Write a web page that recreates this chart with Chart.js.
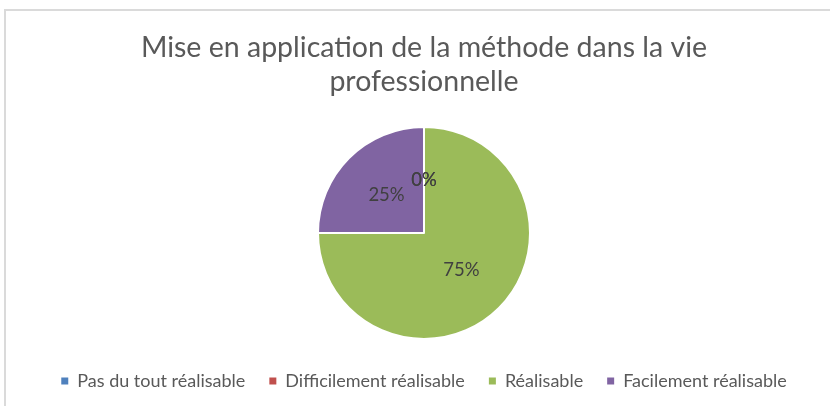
<!DOCTYPE html>
<html>
<head>
<meta charset="utf-8">
<script src="https://cdn.jsdelivr.net/npm/chart.js@4.4.1/dist/chart.umd.min.js"></script>
<style>
  html,body{margin:0;padding:0;background:#fff;overflow:hidden;}
  #frame{position:absolute;left:4px;top:9px;width:900px;height:500px;border:2px solid #dadada;box-sizing:border-box;}
  #wrap{position:absolute;left:0;top:0;width:830px;height:406px;}
</style>
</head>
<body>
<div id="frame"></div>
<div id="wrap"><canvas id="c"></canvas></div>
<script>
'use strict';

// ── DATA ──────────────────────────────────────────────
const categories = ['Pas du tout réalisable','Difficilement réalisable','Réalisable','Facilement réalisable'];
const values     = [0, 0, 75, 25];
const titleLines = ['Mise en application de la méthode dans la vie','professionnelle'];
const colors     = ['#4F81BD','#C0504D','#9BBB59','#8064A2'];

const FONT = "Lato";

// ── LABELS IN SLICES ──────────────────────────────────
const sliceLabels = {
  id:'sliceLabels',
  afterDatasetsDraw(chart){
    const {ctx} = chart;
    const meta = chart.getDatasetMeta(0);
    const total = values.reduce((a,b)=>a+b,0);
    ctx.save();
    ctx.font = `18.5px ${FONT}`;
    ctx.fillStyle = '#404040';
    ctx.textAlign = 'center';
    ctx.textBaseline = 'middle';
    meta.data.forEach((arc,i)=>{
      const {x,y,startAngle,endAngle,outerRadius} = arc.getProps(['x','y','startAngle','endAngle','outerRadius'],true);
      const mid = (startAngle+endAngle)/2;
      const r = outerRadius*0.5;
      const pct = Math.round(values[i]/total*100)+'%';
      ctx.fillText(pct, x+Math.cos(mid)*r, y+Math.sin(mid)*r);
    });
    ctx.restore();
  }
};

const baseLabels = Chart.overrides.doughnut.plugins.legend.labels.generateLabels;

new Chart(document.getElementById('c').getContext('2d'),{
  type:'pie',
  data:{
    labels:categories,
    datasets:[{
      data:values,
      backgroundColor:colors,
      borderColor:'#ffffff',
      borderWidth:2
    }]
  },
  options:{
    responsive:true,
    maintainAspectRatio:false,
    animation:false,
    layout:{ padding:{ left:18, right:0, top:0, bottom:6 } },
    plugins:{
      tooltip:{ enabled:false },
      title:{
        display:true,
        text:titleLines,
        color:'#595959',
        font:{ family:FONT, size:28.5, weight:'normal', lineHeight:34/28.5 },
        padding:{ top:31, bottom:27 }
      },
      legend:{
        position:'bottom',
        // empty legend title only used as a spacer above the items
        title:{ display:true, text:'', font:{ size:8, lineHeight:1 }, padding:0 },
        labels:{
          color:'#595959',
          font:{ family:FONT, size:18 },
          boxWidth:7, boxHeight:7,
          padding:24,
          generateLabels(chart){
            return baseLabels(chart).map(l=>({...l, lineWidth:0}));
          }
        }
      }
    }
  },
  plugins:[ sliceLabels ]
});
</script>
</body>
</html>
